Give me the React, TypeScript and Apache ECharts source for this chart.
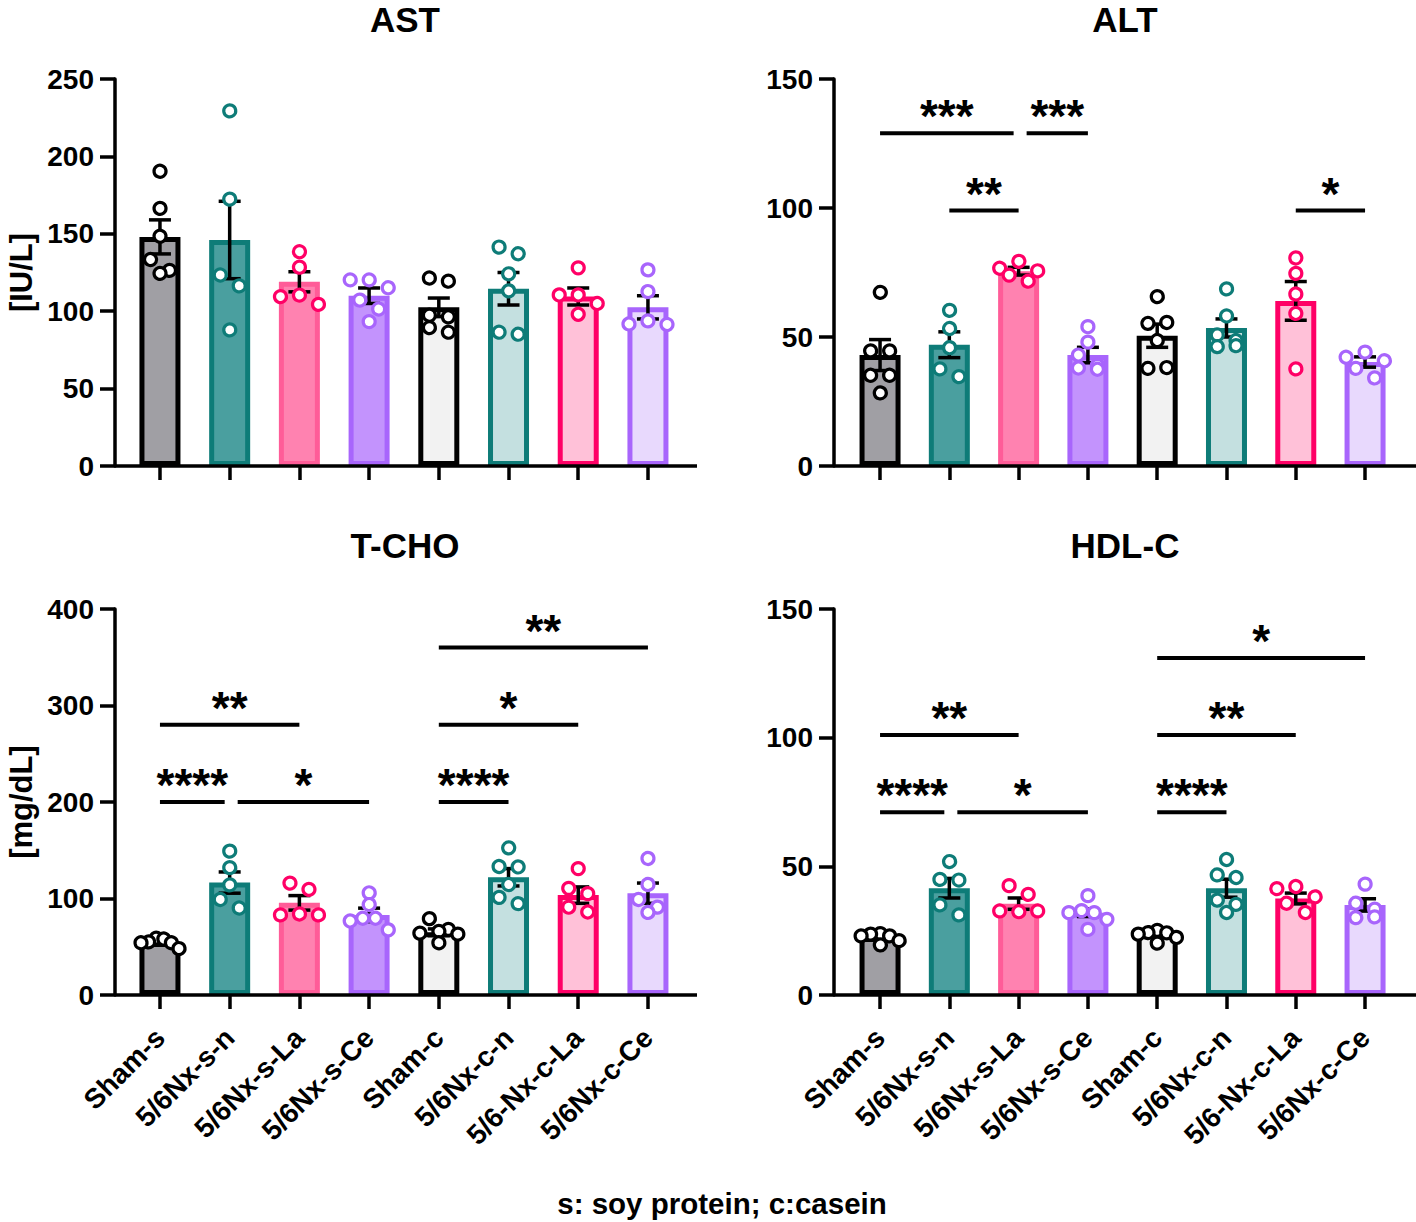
import React, { useEffect, useRef } from "react";
import * as echarts from "echarts";

const FONT = '"Liberation Sans", Arial, Helvetica, sans-serif';

const categories = [
  "Sham-s",
  "5/6Nx-s-n",
  "5/6Nx-s-La",
  "5/6Nx-s-Ce",
  "Sham-c",
  "5/6Nx-c-n",
  "5/6-Nx-c-La",
  "5/6Nx-c-Ce",
];

// AST [IU/L]
const astMean = [148, 146, 119, 110, 102.5, 114.5, 109.5, 102.5];
const astSem = [11, 25, 6.5, 5, 6, 10.5, 5.5, 7.5];
const astDots = [
  [191, 167, 149, 134, 127, 125],
  [230, 173, 124, 117, 88.5],
  [139, 129, 111, 110, 105],
  [121, 121, 116, 108, 102, 94],
  [122, 120, 98, 97, 90, 87],
  [142, 138, 125, 114, 87, 86],
  [128, 110.5, 110.5, 105, 98],
  [127, 113, 94, 92, 92],
];

// ALT [IU/L]
const altMean = [43, 47, 75.5, 43, 50.5, 53.5, 64, 40.3];
const altSem = [6, 5, 1.5, 3, 4.5, 3.5, 7.5, 2];
const altDots = [
  [68, 45, 45, 35.5, 35.5, 29],
  [61, 54, 46.5, 38, 35],
  [80, 77, 76, 74, 72],
  [54, 48, 43, 39, 38, 37.5],
  [66, 56, 56, 49, 38.5, 38.5],
  [69, 58.5, 51.5, 49, 47, 47],
  [81, 75, 67, 59.5, 38],
  [44.5, 42.5, 41.5, 38.5, 34.5],
];
const altSig: [number, number, number, string][] = [
  [0, 2, 129, "***"],
  [2, 3, 129, "***"],
  [1, 2, 99, "**"],
  [6, 7, 99, "*"],
];

// T-CHO [mg/dL]
const tchoMean = [55, 116.5, 95.5, 83, 65, 122, 103.5, 105.5];
const tchoSem = [2.5, 11, 7.5, 7, 3.5, 9, 8.5, 10.5];
const tchoDots = [
  [60, 59, 56, 55, 55, 49],
  [150, 133, 115, 100, 91],
  [117, 110.5, 85, 84, 84],
  [107, 95, 79.5, 79.5, 78, 69],
  [80, 69, 67, 65, 64, 55],
  [154, 134, 134, 116, 102, 96],
  [131, 110.5, 105, 91, 86],
  [142, 115, 100, 91.5, 86],
];
const tchoSig: [number, number, number, string][] = [
  [0, 1, 200, "****"],
  [1, 3, 200, "*"],
  [0, 2, 280, "**"],
  [4, 5, 200, "****"],
  [4, 6, 280, "*"],
  [4, 7, 360, "**"],
];

// HDL-C [mg/dL]
const hdlMean = [22.5, 41.5, 35.5, 32, 24, 41.5, 37.5, 35];
const hdlSem = [0.8, 3.8, 2.2, 1.5, 0.8, 3.5, 2.1, 2.4];
const hdlDots = [
  [24.5, 24, 23.3, 23.3, 21.5, 20.2],
  [52.5, 45.3, 45, 35.4, 31.5],
  [42.5, 39.5, 33, 33, 33],
  [38.6, 32.8, 32, 32, 29.4, 25.5],
  [25.5, 25, 24.5, 24, 23, 20.5],
  [53, 47.3, 46, 37.6, 35.6, 32.4],
  [42.5, 41.7, 38.9, 36.3, 32.4],
  [43.4, 36.3, 33.7, 30.7, 30.7],
];
const hdlSig: [number, number, number, string][] = [
  [0, 1, 71, "****"],
  [1, 3, 71, "*"],
  [0, 2, 101, "**"],
  [4, 5, 71, "****"],
  [4, 6, 101, "**"],
  [4, 7, 131, "*"],
];

const fills = ["#a09fa4", "#4a9f9f", "#ff82b0", "#c393fd", "#f2f2f2", "#c4e0e0", "#ffc1d8", "#e8d9fd"];
const borders = ["#000000", "#0e7c78", "#ff5c98", "#a865fc", "#000000", "#0e7c78", "#ff0066", "#a865fc"];
const dotColors = ["#000000", "#0e7c78", "#ff0066", "#a865fc", "#000000", "#0e7c78", "#ff0066", "#a865fc"];

type Panel = {
  title: string;
  yName: string;
  max: number;
  interval: number;
  means: number[];
  sems: number[];
  dots: number[][];
  sig: [number, number, number, string][];
  showLabels: boolean;
  axisX: number;
  left: number;
  width: number;
  top: number;
  height: number;
  xEnd: number;
  titleX: number;
  titleY: number;
};

const panels: Panel[] = [
  { title: "AST", yName: "[IU/L]", max: 250, interval: 50, means: astMean, sems: astSem, dots: astDots, sig: [], showLabels: false,
    axisX: 115, left: 125.1, width: 557.7, top: 79, height: 387, xEnd: 697, titleX: 405, titleY: 19 },
  { title: "ALT", yName: "", max: 150, interval: 50, means: altMean, sems: altSem, dots: altDots, sig: altSig, showLabels: false,
    axisX: 834, left: 845.4, width: 554.3, top: 79, height: 387, xEnd: 1416, titleX: 1125, titleY: 19 },
  { title: "T-CHO", yName: "[mg/dL]", max: 400, interval: 100, means: tchoMean, sems: tchoSem, dots: tchoDots, sig: tchoSig, showLabels: true,
    axisX: 115, left: 125.1, width: 557.7, top: 609, height: 386, xEnd: 697, titleX: 405, titleY: 545 },
  { title: "HDL-C", yName: "", max: 150, interval: 50, means: hdlMean, sems: hdlSem, dots: hdlDots, sig: hdlSig, showLabels: true,
    axisX: 834, left: 845.4, width: 554.3, top: 609, height: 386, xEnd: 1416, titleX: 1125, titleY: 545 },
];

// Symmetric "dome" swarm layout: dots with close pixel heights share a row,
// the highest dot of a row takes the middle slot.
function swarm(ys: number[], rowH: number, spacing: number, maxSpread: number): number[] {
  const order = ys.map((y, i) => i).sort((a, b) => ys[a] - ys[b]);
  const offs = new Array(ys.length).fill(0);
  let row: number[] = [];
  let rowStart = -Infinity;
  const flush = () => {
    const n = row.length;
    if (!n) return;
    const s = n > 1 ? Math.min(spacing, maxSpread / (n - 1)) : 0;
    const slots = row.map((_, k) => (k - (n - 1) / 2) * s);
    const slotOrder = slots
      .map((v, k) => k)
      .sort((a, b) => Math.abs(slots[a]) - Math.abs(slots[b]) || slots[a] - slots[b]);
    row.forEach((idx, k) => {
      offs[idx] = slots[slotOrder[k]];
    });
    row = [];
  };
  order.forEach((idx) => {
    if (ys[idx] - rowStart >= rowH) {
      flush();
      rowStart = ys[idx];
    }
    row.push(idx);
  });
  flush();
  return offs;
}

export default function App() {
  const ref = useRef<HTMLDivElement>(null);

  useEffect(() => {
    if (!ref.current) return;
    const chart = echarts.init(ref.current, undefined, { renderer: "svg" });

    const grid: any[] = [];
    const xAxis: any[] = [];
    const yAxis: any[] = [];
    const series: any[] = [];
    const graphic: any[] = [];

    panels.forEach((p, pi) => {
      grid.push({ left: p.left, top: p.top, width: p.width, height: p.height, containLabel: false });
      xAxis.push({
        type: "category",
        gridIndex: pi,
        data: categories,
        boundaryGap: true,
        axisLine: { show: false },
        axisTick: { show: true, alignWithLabel: true, length: 14, lineStyle: { width: 3.5, color: "#000" } },
        axisLabel: {
          show: p.showLabels,
          interval: 0,
          rotate: 45,
          margin: 38,
          fontSize: 28,
          fontWeight: "bold",
          fontFamily: FONT,
          color: "#000",
        },
        splitLine: { show: false },
      });
      yAxis.push({
        type: "value",
        gridIndex: pi,
        min: 0,
        max: p.max,
        interval: p.interval,
        offset: p.left - p.axisX,
        name: p.yName,
        nameLocation: "middle",
        nameGap: 78,
        nameTextStyle: { fontSize: 31, fontWeight: "bold", fontFamily: FONT, color: "#000" },
        axisLine: { show: true, lineStyle: { width: 3.5, color: "#000" } },
        axisTick: { show: true, length: 15, lineStyle: { width: 3.5, color: "#000" } },
        axisLabel: { fontSize: 28, fontWeight: "bold", fontFamily: FONT, color: "#000", margin: 21 },
        splitLine: { show: false },
      });

      series.push({
        type: "bar",
        xAxisIndex: pi,
        yAxisIndex: pi,
        barWidth: 41,
        z: 2,
        data: p.means.map((v, i) => ({
          value: v,
          itemStyle: { color: fills[i], borderColor: borders[i], borderWidth: 5 },
        })),
      });

      series.push({
        type: "custom",
        xAxisIndex: pi,
        yAxisIndex: pi,
        z: 3,
        encode: { x: 0, y: 1 },
        data: p.means.map((m, i) => [i, m, p.sems[i]]),
        renderItem: (params: any, api: any) => {
          const i = api.value(0);
          const m = api.value(1);
          const s = api.value(2);
          const top = api.coord([i, m + s]);
          const bot = api.coord([i, m - s]);
          const cx = top[0];
          const hw = 11;
          const st = { stroke: "#000", lineWidth: 3.5 };
          return {
            type: "group",
            children: [
              { type: "line", shape: { x1: cx, y1: top[1], x2: cx, y2: bot[1] }, style: st },
              { type: "line", shape: { x1: cx - hw, y1: top[1], x2: cx + hw, y2: top[1] }, style: st },
              { type: "line", shape: { x1: cx - hw, y1: bot[1], x2: cx + hw, y2: bot[1] }, style: st },
            ],
          };
        },
      });

      series.push({
        type: "custom",
        xAxisIndex: pi,
        yAxisIndex: pi,
        z: 4,
        encode: { x: 0, y: 1 },
        data: p.dots.map((d, i) => [i, d[0]]),
        renderItem: (params: any, api: any) => {
          const gi = params.dataIndex;
          const vals = p.dots[gi];
          const cx = api.coord([gi, 0])[0];
          const ys = vals.map((v) => api.coord([gi, v])[1]);
          const offs = swarm(ys, 11, 19, 38);
          return {
            type: "group",
            children: ys.map((y, k) => ({
              type: "circle",
              shape: { cx: cx + offs[k], cy: y, r: 6 },
              style: { fill: "#fff", stroke: dotColors[gi], lineWidth: 3.2 },
            })),
          };
        },
      });

      if (p.sig.length) {
        series.push({
          type: "custom",
          xAxisIndex: pi,
          yAxisIndex: pi,
          z: 5,
          encode: { x: [0, 1], y: 2 },
          data: p.sig.map((b) => [b[0], b[1], b[2]]),
          renderItem: (params: any, api: any) => {
            const b = p.sig[params.dataIndex];
            const a = api.coord([b[0], b[2]]);
            const c = api.coord([b[1], b[2]]);
            let x1 = a[0];
            let x2 = c[0];
            const y = a[1];
            if (p.sig.some((o) => o !== b && o[2] === b[2] && o[0] === b[1])) x2 -= 5;
            if (p.sig.some((o) => o !== b && o[2] === b[2] && o[1] === b[0])) x1 += 8;
            return {
              type: "group",
              children: [
                { type: "line", shape: { x1, y1: y, x2, y2: y }, style: { stroke: "#000", lineWidth: 4 } },
                {
                  type: "text",
                  style: {
                    text: b[3],
                    x: (x1 + x2) / 2,
                    y: y - 17,
                    align: "center",
                    verticalAlign: "middle",
                    fontSize: 46,
                    fontWeight: "bold",
                    fontFamily: FONT,
                    fill: "#000",
                  },
                },
              ],
            };
          },
        });
      }

      graphic.push({
        type: "line",
        shape: { x1: p.axisX, y1: p.top + p.height, x2: p.xEnd, y2: p.top + p.height },
        style: { stroke: "#000", lineWidth: 3.5 },
        z: 10,
      });
      graphic.push({
        type: "text",
        x: p.titleX,
        y: p.titleY,
        style: {
          text: p.title,
          align: "center",
          verticalAlign: "middle",
          fontSize: 35,
          fontWeight: "bold",
          fontFamily: FONT,
          fill: "#000",
        },
      });
    });

    graphic.push({
      type: "text",
      x: 722,
      y: 1203,
      style: {
        text: "s: soy protein; c:casein",
        align: "center",
        verticalAlign: "middle",
        fontSize: 29.5,
        fontWeight: "bold",
        fontFamily: FONT,
        fill: "#000",
      },
    });

    chart.setOption({
      animation: false,
      backgroundColor: "#ffffff",
      grid,
      xAxis,
      yAxis,
      series,
      graphic,
    });

    return () => chart.dispose();
  }, []);

  return (
    <div
      ref={ref}
      style={{ position: "absolute", left: 0, top: 0, width: 1416, height: 1222, background: "#fff" }}
    />
  );
}
